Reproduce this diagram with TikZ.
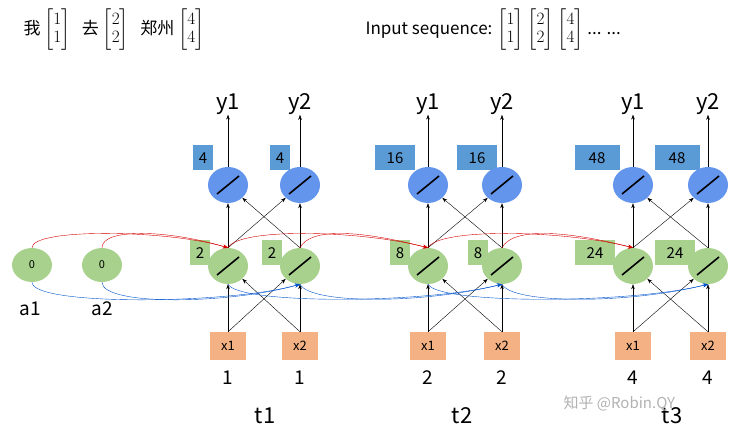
\documentclass[tikz,border=0pt]{standalone}
\usepackage{amsmath}
\usepackage{fontspec}
\setmainfont{Noto Sans CJK SC}
\usetikzlibrary{arrows.meta,shapes.geometric}
\definecolor{cblue}{RGB}{100,149,237}
\definecolor{cgreen}{RGB}{169,209,142}
\definecolor{bblue}{RGB}{91,155,213}
\definecolor{borange}{RGB}{244,177,131}
\begin{document}
\begin{tikzpicture}[x=1pt,y=-1pt,
 neuron/.style={ellipse,minimum width=40,minimum height=36,inner sep=0,
   path picture={\draw[line width=1.6pt] ([shift={(-11,9)}]path picture bounding box.center) -- ([shift={(11,-9)}]path picture bounding box.center);}},
 hid/.style={neuron,fill=cgreen},
 outn/.style={neuron,fill=cblue},
 init/.style={ellipse,fill=cgreen,minimum width=40,minimum height=34,inner sep=0,font=\fontsize{11}{12}\selectfont},
 hbox/.style={fill=cgreen,minimum height=25,inner sep=1,font=\fontsize{15}{16}\selectfont},
 obox/.style={fill=bblue,minimum height=25,inner sep=1,font=\fontsize{15}{16}\selectfont},
 xbox/.style={fill=borange,minimum width=36,minimum height=28,inner sep=0,font=\fontsize{13}{14}\selectfont},
 lbl/.style={font=\fontsize{19}{20}\selectfont,inner sep=0},
 big/.style={font=\fontsize{22}{24}\selectfont,inner sep=0},
 ar/.style={-{Stealth[length=5pt,width=3.5pt]},black},
 rd/.style={red!85!black,-{Stealth[length=5pt,width=4pt]}},
 bl/.style={blue!60!cyan!80!black,-{Stealth[length=5pt,width=4pt]}}]
\useasboundingbox (0,0) rectangle (744,435);
% header
\node[anchor=west,font=\fontsize{17}{18}\selectfont] (hd) at (20,30) {我 $\begin{bmatrix}1\\1\end{bmatrix}$ \ \ 去 $\begin{bmatrix}2\\2\end{bmatrix}$ \ \ 郑州 $\begin{bmatrix}4\\4\end{bmatrix}$};
\node[anchor=west,font=\fontsize{17}{18}\selectfont] (hd2) at (362,30) {Input sequence: $\begin{bmatrix}1\\1\end{bmatrix}$ $\begin{bmatrix}2\\2\end{bmatrix}$ $\begin{bmatrix}4\\4\end{bmatrix}$ ... ...};
% initial
\node[init] (a1) at (32,265) {0};
\node[init] (a2) at (102,265) {0};
\node[lbl] (la1) at (30,309) {a1};
\node[lbl] (la2) at (102,309) {a2};
% columns
\foreach \t/\xa/\xb/\hv/\ov/\hba/\hbb/\oba/\obb/\hw/\ow/\iv/\tx in
 {1/228/300/2/4/200/272/203/280/20/20/1/265,
  2/428/502/8/16/400/478/395/477/20/40/2/462,
  3/633/708/24/48/595/675/597/677/40/45/4/672}{
  \node[hbox,minimum width=\hw] (hb\t a) at (\hba,253) {\hv};
  \node[hbox,minimum width=\hw] (hb\t b) at (\hbb,253) {\hv};
  \node[obox,minimum width=\ow] (ob\t a) at (\oba,158) {\ov};
  \node[obox,minimum width=\ow] (ob\t b) at (\obb,158) {\ov};
  \node[hid] (h\t a) at (\xa,266) {};
  \node[hid] (h\t b) at (\xb,266) {};
  \node[outn] (o\t a) at (\xa,185) {};
  \node[outn] (o\t b) at (\xb,185) {};
  \node[xbox] (x\t a) at (\xa,346) {x1};
  \node[xbox] (x\t b) at (\xb,346) {x2};
  \node[lbl] (v\t a) at (\xa,378) {\iv};
  \node[lbl] (v\t b) at (\xb,378) {\iv};
  \node[big] (y\t a) at (\xa,104) {y1};
  \node[big] (y\t b) at (\xb,104) {y2};
  \node[big] (t\t) at (\tx,416) {t\t};
  \draw[ar] (x\t a.north) -- (h\t a.south);
  \draw[ar] (x\t b.north) -- (h\t b.south);
  \draw[ar] (x\t a.north) -- (h\t b.south west);
  \draw[ar] (x\t b.north) -- (h\t a.south east);
  \draw[ar] (h\t a.north) -- (o\t a.south);
  \draw[ar] (h\t b.north) -- (o\t b.south);
  \draw[ar] (h\t a.north) -- (o\t b.south west);
  \draw[ar] (h\t b.north) -- (o\t a.south east);
  \draw[ar] (o\t a.north) -- (y\t a.south);
  \draw[ar] (o\t b.north) -- (y\t b.south);
}
% recurrent
\draw[rd] (a1.north) .. controls +(0,-20) and +(-60,-18) .. (h1a.north);
\draw[rd] (a2.north) .. controls +(0,-20) and +(-60,-18) .. (h1a.north);
\draw[bl] (a1.south) .. controls +(0,24) and +(-70,20) .. (h1b.south);
\draw[bl] (a2.south) .. controls +(0,24) and +(-70,20) .. (h1b.south);
\foreach \s/\d in {1/2,2/3}{
  \draw[rd] (h\s a.north) .. controls +(10,-20) and +(-70,-18) .. (h\d a.north);
  \draw[rd] (h\s b.north) .. controls +(10,-20) and +(-70,-18) .. (h\d a.north);
  \draw[bl] (h\s a.south) .. controls +(10,20) and +(-80,20) .. (h\d b.south);
  \draw[bl] (h\s b.south) .. controls +(10,20) and +(-80,20) .. (h\d b.south);
}
\node[text=gray!60,font=\fontsize{15}{16}\selectfont,anchor=west] (wm) at (560,404) {知乎 @Robin.QY};
\end{tikzpicture}
\end{document}
